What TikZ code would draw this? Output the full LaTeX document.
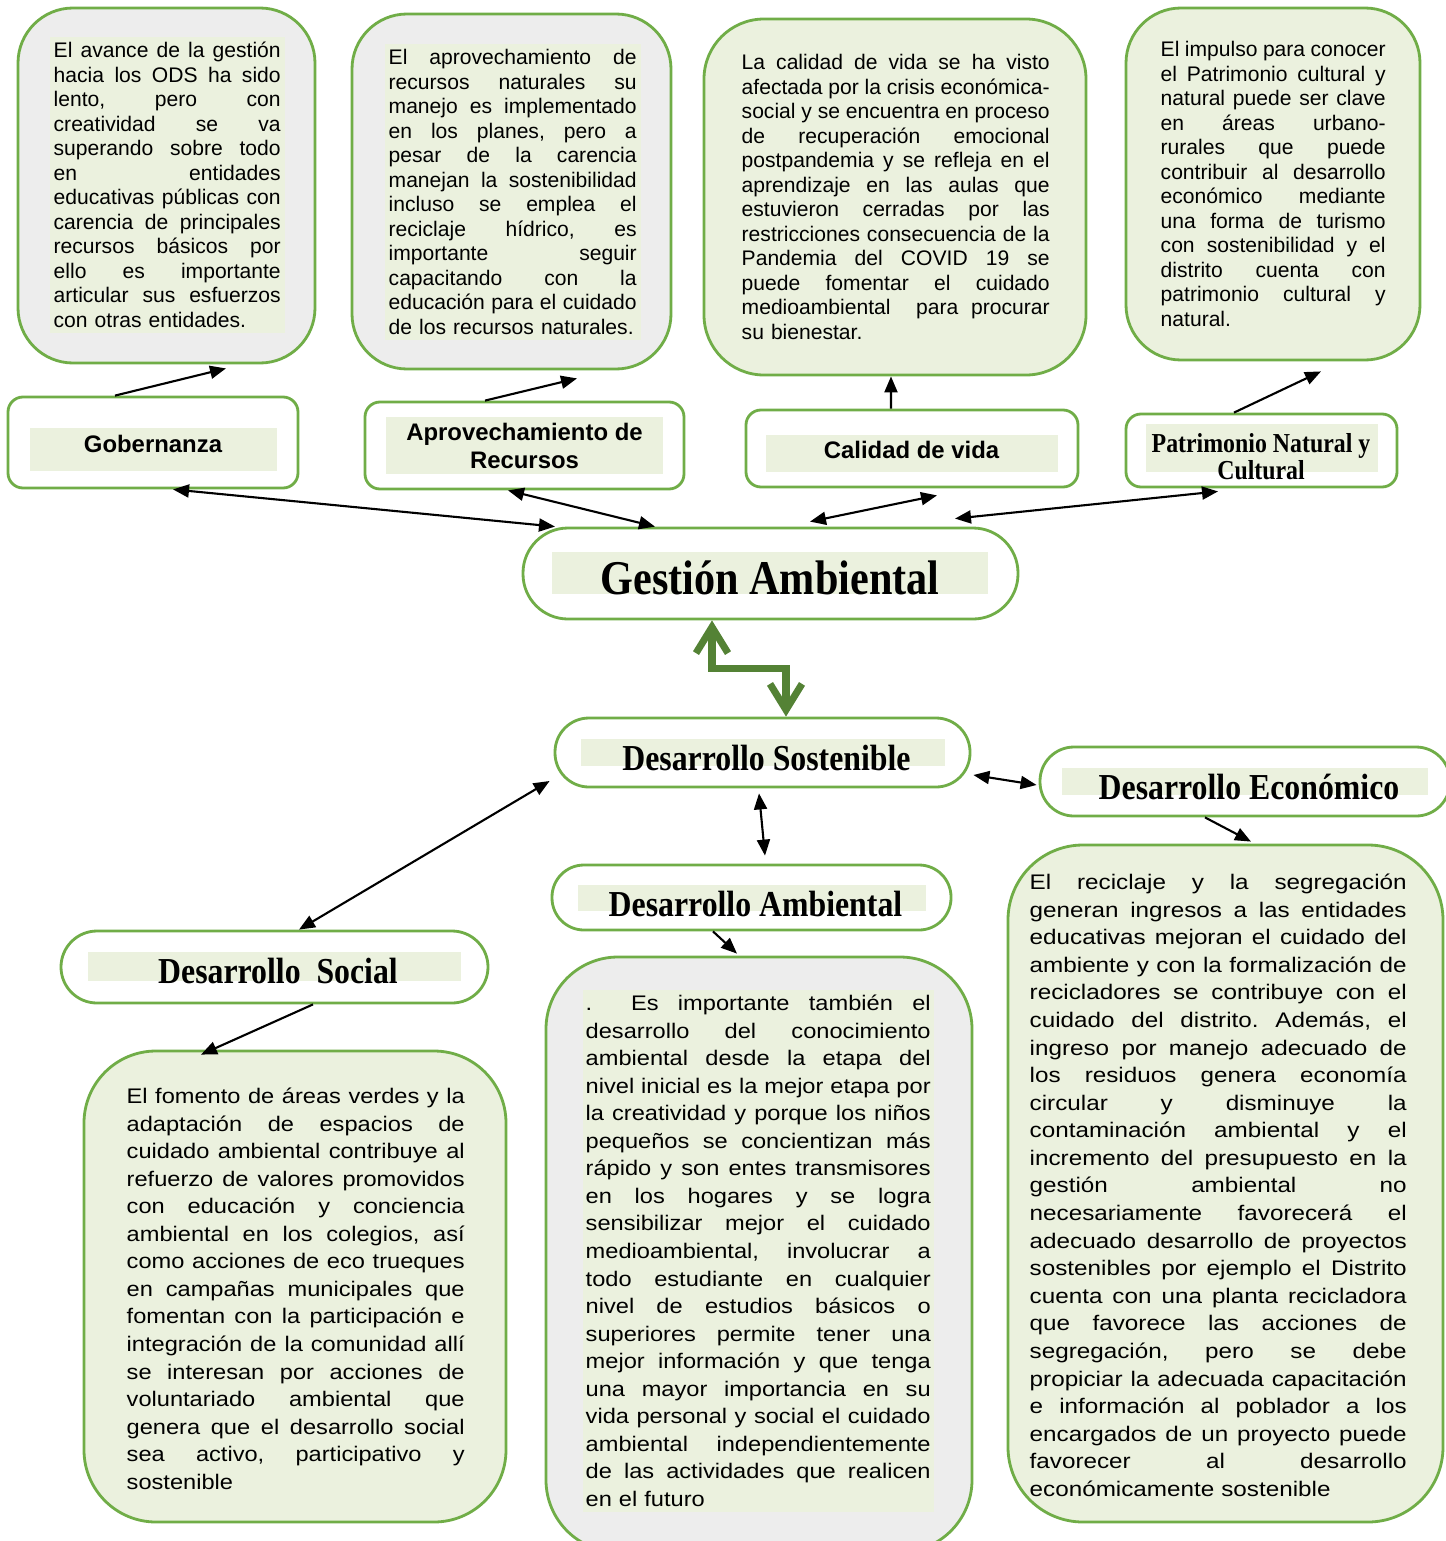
\documentclass[tikz,border=0pt]{standalone}
\usepackage{fontspec}
\setmainfont{Liberation Sans}
\newfontfamily\wide[FakeStretch=1.12]{Liberation Sans}
\newfontfamily\wider[FakeStretch=1.15]{Liberation Sans}
\newfontfamily\titlefont[FakeStretch=0.87]{Liberation Serif}
\usepackage{tikz}
\usetikzlibrary{arrows.meta, positioning}
\definecolor{gborder}{HTML}{70AD47}
\definecolor{hl}{HTML}{EBF1DE}
\definecolor{gris}{HTML}{EDEDED}
\definecolor{darkgreen}{HTML}{548235}
\frenchspacing
% one justified line, and the last line of a paragraph
\newcommand{\jl}[1]{\hbox to\hsize{\spaceskip=\fontdimen2\font plus 1fil minus 0.3\fontdimen2\font #1}\break}
\newcommand{\jlast}[1]{\hbox to\hsize{#1\hfil}}

\begin{document}
\begin{tikzpicture}[
    box/.style={rectangle, draw=gborder, line width=0.8pt, inner sep=0pt},
    infobox/.style={box, rounded corners=0.55cm},
    tagbox/.style={box, fill=white, rounded corners=0.15cm},
    ovalbox/.style={box, fill=white},
    hlbox/.style={fill=hl, inner sep=0pt},
    info/.style={anchor=base west, inner xsep=0.04cm, inner ysep=1.5pt, font=\fontsize{6}{6.98}\selectfont},
    infowide/.style={info, font=\wide\fontsize{6}{7.84}\selectfont},
    titlesans/.style={inner sep=0pt, anchor=base, font=\bfseries\fontsize{6.8}{8}\selectfont},
    titleserif/.style={inner sep=0pt, anchor=base, font=\titlefont\bfseries\fontsize{10.4}{12}\selectfont},
    arrow/.style={-{Triangle[length=1.6mm,width=1.3mm]}, line width=0.6pt},
    darrow/.style={{Triangle[length=1.6mm,width=1.3mm]}-{Triangle[length=1.6mm,width=1.3mm]}, line width=0.6pt},
    garrow/.style={{Straight Barb[length=2.6mm,width=3.2mm]}-{Straight Barb[length=2.6mm,width=3.2mm]}, line width=2pt, draw=darkgreen}
]
    \useasboundingbox (0,0) rectangle (14.45,-15.41);
    \fill[white] (0,0) rectangle (14.45,-15.41);

    % Top row: text boxes
    \node[infobox, fill=gris, minimum width=2.97cm, minimum height=3.55cm] (gobinfo) at (1.665,-1.855) {};
    \node[info, fill=hl, text width=2.27cm] (gobinfotxt) at (0.49,-0.575) {\jl{El avance de la gestión}
    \jl{hacia los ODS ha sido}
    \jl{lento, pero con}
    \jl{creatividad se va}
    \jl{superando sobre todo}
    \jl{en entidades}
    \jl{educativas públicas con}
    \jl{carencia de principales}
    \jl{recursos básicos por}
    \jl{ello es importante}
    \jl{articular sus esfuerzos}
    \jlast{con otras entidades.}};

    \node[infobox, fill=gris, minimum width=3.19cm, minimum height=3.55cm] (recinfo) at (5.115,-1.915) {};
    \node[info, fill=hl, text width=2.48cm] (recinfotxt) at (3.84,-0.645) {\jl{El aprovechamiento de}
    \jl{recursos naturales su}
    \jl{manejo es implementado}
    \jl{en los planes, pero a}
    \jl{pesar de la carencia}
    \jl{manejan la sostenibilidad}
    \jl{incluso se emplea el}
    \jl{reciclaje hídrico, es}
    \jl{importante seguir}
    \jl{capacitando con la}
    \jl{educación para el cuidado}
    \jlast{de los recursos naturales.}};

    \node[infobox, fill=hl, rounded corners=0.6cm, minimum width=3.82cm, minimum height=3.56cm] (calinfo) at (8.95,-1.97) {};
    \node[info, text width=3.08cm] (calinfotxt) at (7.37,-0.695) {\jl{La calidad de vida se ha visto}
    \jl{afectada por la crisis económica-}
    \jl{social y se encuentra en proceso}
    \jl{de recuperación emocional}
    \jl{postpandemia y se refleja en el}
    \jl{aprendizaje en las aulas que}
    \jl{estuvieron cerradas por las}
    \jl{restricciones consecuencia de la}
    \jl{Pandemia del COVID 19 se}
    \jl{puede fomentar el cuidado}
    \jl{medioambiental\ \ para procurar}
    \jlast{su bienestar.}};

    \node[infobox, fill=hl, minimum width=2.94cm, minimum height=3.52cm] (patinfo) at (12.73,-1.84) {};
    \node[info, text width=2.25cm] (patinfotxt) at (11.56,-0.565) {\jl{El impulso para conocer}
    \jl{el Patrimonio cultural y}
    \jl{natural puede ser clave}
    \jl{en áreas urbano-}
    \jl{rurales que puede}
    \jl{contribuir al desarrollo}
    \jl{económico mediante}
    \jl{una forma de turismo}
    \jl{con sostenibilidad y el}
    \jl{distrito cuenta con}
    \jl{patrimonio cultural y}
    \jlast{natural.}};

    % Second row: themes
    \node[tagbox, minimum width=2.90cm, minimum height=0.91cm] (gob) at (1.53,-4.425) {};
    \node[hlbox, minimum width=2.47cm, minimum height=0.43cm] (gobhl) at (1.535,-4.495) {};
    \node[titlesans] (gobtxt) at (1.53,-4.525) {Gobernanza};

    \node[tagbox, minimum width=3.19cm, minimum height=0.87cm] (rec) at (5.245,-4.455) {};
    \node[hlbox, minimum width=2.77cm, minimum height=0.57cm] (rechl) at (5.245,-4.455) {};
    \node[titlesans, anchor=center, align=center] (rectxt) at (5.245,-4.46) {Aprovechamiento de\\Recursos};

    \node[tagbox, minimum width=3.32cm, minimum height=0.77cm] (cal) at (9.12,-4.485) {};
    \node[hlbox, minimum width=2.92cm, minimum height=0.37cm] (calhl) at (9.12,-4.535) {};
    \node[titlesans] (caltxt) at (9.115,-4.585) {Calidad de vida};

    \node[tagbox, minimum width=2.71cm, minimum height=0.73cm] (pat) at (12.615,-4.505) {};
    \node[hlbox, minimum width=2.32cm, minimum height=0.48cm] (pathl) at (12.62,-4.48) {};
    \node[titleserif, anchor=center, align=center, font=\titlefont\bfseries\fontsize{7.8}{7.7}\selectfont] (pattxt) at (12.61,-4.565) {Patrimonio Natural y\\Cultural};

    % Centre
    \node[ovalbox, rounded corners=0.45cm, minimum width=4.95cm, minimum height=0.91cm] (gest) at (7.705,-5.735) {};
    \node[hlbox, minimum width=4.36cm, minimum height=0.42cm] (gesthl) at (7.70,-5.73) {};
    \node[titleserif, font=\titlefont\bfseries\fontsize{13.8}{16}\selectfont] (gesttxt) at (7.70,-5.94) {Gestión Ambiental};

    \node[ovalbox, rounded corners=0.34cm, minimum width=4.15cm, minimum height=0.69cm] (sost) at (7.625,-7.525) {};
    \node[hlbox, minimum width=3.64cm, minimum height=0.27cm] (sosthl) at (7.63,-7.525) {};
    \node[titleserif] (sosttxt) at (7.665,-7.70) {Desarrollo Sostenible};

    \node[ovalbox, rounded corners=0.34cm, minimum width=4.10cm, minimum height=0.69cm] (econ) at (12.45,-7.815) {};
    \node[hlbox, minimum width=3.66cm, minimum height=0.27cm] (econhl) at (12.45,-7.815) {};
    \node[titleserif] (econtxt) at (12.49,-7.99) {Desarrollo Económico};

    \node[ovalbox, rounded corners=0.32cm, minimum width=3.99cm, minimum height=0.65cm] (amb) at (7.515,-8.975) {};
    \node[hlbox, minimum width=3.48cm, minimum height=0.26cm] (ambhl) at (7.52,-8.98) {};
    \node[titleserif] (ambtxt) at (7.555,-9.16) {Desarrollo Ambiental};

    \node[ovalbox, rounded corners=0.36cm, minimum width=4.27cm, minimum height=0.72cm] (soc) at (2.745,-9.67) {};
    \node[hlbox, minimum width=3.73cm, minimum height=0.29cm] (sochl) at (2.745,-9.665) {};
    \node[titleserif] (soctxt) at (2.78,-9.83) {Desarrollo\ \ Social};

    % Bottom row: text boxes
    \node[infobox, fill=hl, rounded corners=0.72cm, minimum width=4.22cm, minimum height=4.71cm] (blinfo) at (2.95,-12.865) {};
    \node[infowide, text width=3.38cm] (blinfotxt) at (1.22,-11.035) {\jl{El fomento de áreas verdes y la}
    \jl{adaptación de espacios de}
    \jl{cuidado ambiental contribuye al}
    \jl{refuerzo de valores promovidos}
    \jl{con educación y conciencia}
    \jl{ambiental en los colegios, así}
    \jl{como acciones de eco trueques}
    \jl{en campañas municipales que}
    \jl{fomentan con la participación e}
    \jl{integración de la comunidad allí}
    \jl{se interesan por acciones de}
    \jl{voluntariado ambiental que}
    \jl{genera que el desarrollo social}
    \jl{sea activo, participativo y}
    \jlast{sostenible}};

    \node[infobox, fill=gris, rounded corners=0.72cm, minimum width=4.26cm, minimum height=5.95cm] (bminfo) at (7.59,-12.545) {};
    \node[infowide, fill=hl, inner xsep=0.03cm, text width=3.45cm] (bminfotxt) at (5.82,-10.105) {\jl{.\ \ Es importante también el}
    \jl{desarrollo del conocimiento}
    \jl{ambiental desde la etapa del}
    \jl{nivel inicial es la mejor etapa por}
    \jl{la creatividad y porque los niños}
    \jl{pequeños se concientizan más}
    \jl{rápido y son entes transmisores}
    \jl{en los hogares y se logra}
    \jl{sensibilizar mejor el cuidado}
    \jl{medioambiental, involucrar a}
    \jl{todo estudiante en cualquier}
    \jl{nivel de estudios básicos o}
    \jl{superiores permite tener una}
    \jl{mejor información y que tenga}
    \jl{una mayor importancia en su}
    \jl{vida personal y social el cuidado}
    \jl{ambiental\ \ independientemente}
    \jl{de las actividades que realicen}
    \jlast{en el futuro}};

    \node[infobox, fill=hl, rounded corners=0.75cm, minimum width=4.35cm, minimum height=6.77cm] (brinfo) at (12.255,-11.835) {};
    \node[infowide, font=\wider\fontsize{6}{7.85}\selectfont, text width=3.77cm] (brinfotxt) at (10.25,-8.895) {\jl{El reciclaje y la segregación}
    \jl{generan ingresos a las entidades}
    \jl{educativas mejoran el cuidado del}
    \jl{ambiente y con la formalización de}
    \jl{recicladores se contribuye con el}
    \jl{cuidado del distrito. Además, el}
    \jl{ingreso por manejo adecuado de}
    \jl{los residuos genera economía}
    \jl{circular y disminuye la}
    \jl{contaminación ambiental y el}
    \jl{incremento del presupuesto en la}
    \jl{gestión ambiental no}
    \jl{necesariamente favorecerá el}
    \jl{adecuado desarrollo de proyectos}
    \jl{sostenibles por ejemplo el Distrito}
    \jl{cuenta con una planta recicladora}
    \jl{que favorece las acciones de}
    \jl{segregación, pero se debe}
    \jl{propiciar la adecuada capacitación}
    \jl{e información al poblador a los}
    \jl{encargados de un proyecto puede}
    \jl{favorecer al desarrollo}
    \jlast{económicamente sostenible}};

    % Connectors
    \draw[arrow] ([xshift=-0.38cm]gob.north) -- ([xshift=0.595cm,yshift=-0.04cm]gobinfo.south);
    \draw[arrow] ([xshift=-0.395cm]rec.north) -- ([xshift=0.655cm,yshift=-0.08cm]recinfo.south);
    \draw[arrow] ([xshift=-0.21cm]cal.north) -- ([xshift=-0.04cm]calinfo.south);
    \draw[arrow] ([xshift=-0.275cm]pat.north) -- ([xshift=0.48cm,yshift=-0.1cm]patinfo.south);

    \draw[darrow] ([xshift=0.2cm]gob.south) -- ([xshift=-2.155cm]gest.north);
    \draw[darrow] ([xshift=-0.165cm]rec.south) -- ([xshift=-1.155cm]gest.north);
    \draw[darrow] ([xshift=0.25cm,yshift=-0.07cm]cal.south) -- ([xshift=0.395cm,yshift=0.05cm]gest.north);
    \draw[darrow] ([xshift=-0.435cm,yshift=-0.03cm]pat.south) -- ([xshift=1.845cm,yshift=0.08cm]gest.north);

    \draw[garrow] ([xshift=-0.585cm]gest.south) -- ++(0,-0.48) -| ([xshift=0.235cm]sost.north);

    \draw[darrow] ([shift={(-0.04cm,-0.285cm)}]sost.west) -- ([xshift=0.245cm]soc.north);
    \draw[darrow] ([xshift=-0.035cm,yshift=-0.05cm]sost.south) -- ([xshift=0.135cm,yshift=0.08cm]amb.north);
    \draw[darrow] ([shift={(0.02cm,-0.225cm)}]sost.east) -- ([shift={(-0.02cm,-0.035cm)}]econ.west);

    \draw[arrow] ([xshift=-0.4cm]econ.south) -- ([xshift=0.255cm,yshift=0.02cm]brinfo.north);
    \draw[arrow] ([xshift=-0.385cm]amb.south) -- ([xshift=-0.22cm,yshift=0.02cm]bminfo.north);
    \draw[arrow] ([xshift=0.385cm]soc.south) -- ([xshift=-0.94cm,yshift=-0.05cm]blinfo.north);
\end{tikzpicture}
\end{document}
